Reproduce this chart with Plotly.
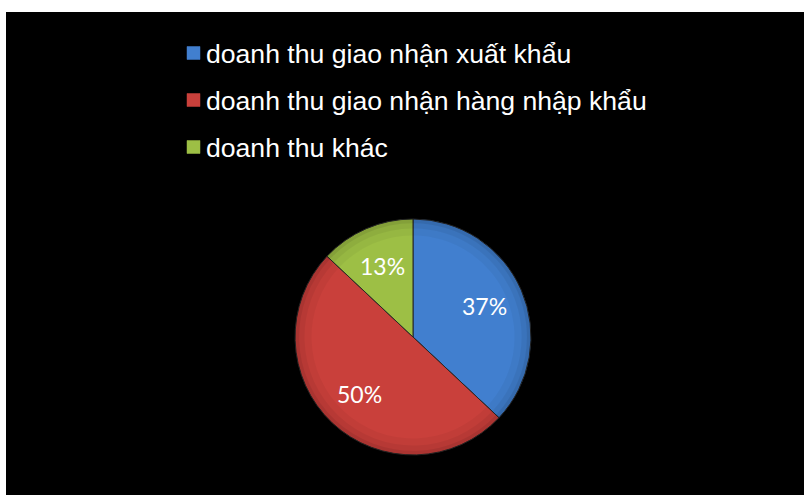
import math
import plotly.graph_objects as go

# Revenue structure by activity
labels = [
    "doanh thu giao nhận xuất khẩu",
    "doanh thu giao nhận hàng nhập khẩu",
    "doanh thu khác",
]
shares = [37, 50, 13]
colors = ["#417fcf", "#c9403b", "#9dbf45"]

W, H = 804, 495

# pie geometry in pixels
cx, cy, R = 413, 337, 118
pie_domain = dict(x=[(cx - R) / W, (cx + R) / W],
                  y=[(H - cy - R) / H, (H - cy + R) / H])

fig = go.Figure()

fig.add_trace(go.Pie(
    labels=labels,
    values=shares,
    sort=False,
    direction="clockwise",
    rotation=0,
    marker=dict(colors=colors, line=dict(color="#262626", width=1)),
    textinfo="none",
    domain=pie_domain,
    showlegend=False,
    hoverinfo="label+percent",
))

# soft darkening toward the outer edge, built from stacked translucent rings
for hole, alpha in [(0.86, 0.04), (0.92, 0.05), (0.965, 0.07)]:
    fig.add_trace(go.Pie(
        labels=labels,
        values=shares,
        sort=False,
        direction="clockwise",
        rotation=0,
        hole=hole,
        marker=dict(colors=[f"rgba(0,0,0,{alpha})"] * len(shares),
                    line=dict(width=0)),
        textinfo="none",
        domain=pie_domain,
        showlegend=False,
        hoverinfo="skip",
    ))

shapes = [
    # black chart area inside the thin white frame
    dict(type="rect", xref="paper", yref="paper", layer="below",
         x0=6 / W, x1=1, y0=0, y1=1 - 12 / H,
         fillcolor="black", line=dict(width=0)),
]
annotations = []

# percentage labels at the middle angle of each slice
total = sum(shares)
start = 0.0
for v in shares:
    mid = (start + v / 2) / total * 2 * math.pi
    start += v
    rr = 0.66 * R
    px = cx + rr * math.sin(mid)
    py = cy - rr * math.cos(mid)
    annotations.append(dict(
        text=f"{v}%", xref="paper", yref="paper",
        x=px / W, y=1 - py / H, xanchor="center", yanchor="middle",
        showarrow=False,
        font=dict(family="Lato", size=23, color="white"),
    ))

# legend entries above the pie
row_y = [54, 101, 148]
for lab, col, py in zip(labels, colors, row_y):
    shapes.append(dict(
        type="rect", xref="paper", yref="paper",
        x0=187 / W, x1=200 / W,
        y0=1 - (py + 5.5) / H, y1=1 - (py - 7.5) / H,
        fillcolor=col, line=dict(color=col, width=0.5),
    ))
    annotations.append(dict(
        text=lab, xref="paper", yref="paper",
        x=204 / W, y=1 - py / H, xanchor="left", yanchor="middle",
        showarrow=False,
        font=dict(family="Liberation Sans", size=26.6, color="white"),
    ))

fig.update_layout(
    width=W, height=H,
    margin=dict(l=0, r=0, t=0, b=0),
    paper_bgcolor="white",
    plot_bgcolor="black",
    shapes=shapes,
    annotations=annotations,
)

fig.write_html("out.html")
